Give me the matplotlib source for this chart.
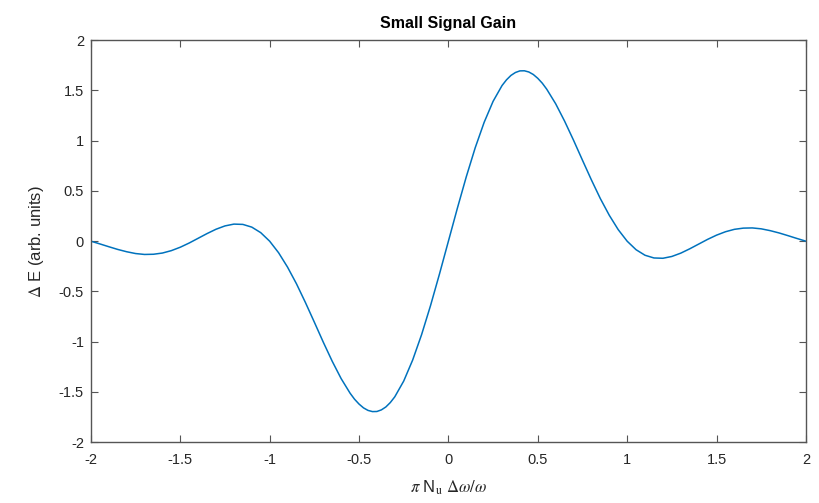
import numpy as np
import matplotlib
matplotlib.use("Agg")
import matplotlib.pyplot as plt

plt.rcParams["font.family"] = ["Liberation Sans", "DejaVu Sans"]
plt.rcParams["mathtext.fontset"] = "stix"

# gain curve for x >= 0 (the curve is odd, mirrored below)
x_pos = [0.00, 0.05, 0.10, 0.15, 0.20, 0.25, 0.30, 0.325, 0.35, 0.375, 0.40, 0.425,
         0.45, 0.475, 0.50, 0.525, 0.55, 0.60, 0.65, 0.70, 0.75, 0.80, 0.85, 0.90, 0.95,
         1.00, 1.05, 1.10, 1.15, 1.20, 1.25, 1.30, 1.35, 1.40, 1.45,
         1.50, 1.55, 1.60, 1.65, 1.70, 1.75, 1.80, 1.85, 1.90, 1.95, 2.00]
gain_pos = [0.000, 0.327, 0.641, 0.930, 1.183, 1.392, 1.549, 1.606, 1.650, 1.679, 1.695, 1.696,
            1.684, 1.659, 1.621, 1.573, 1.513, 1.368, 1.195, 1.005, 0.806, 0.610, 0.424, 0.258, 0.115,
            0.000, -0.085, -0.140, -0.167, -0.170, -0.152, -0.119, -0.076, -0.029, 0.018,
            0.060, 0.094, 0.118, 0.130, 0.132, 0.123, 0.105, 0.082, 0.055, 0.027, 0.000]

x_ticks = [-2, -1.5, -1, -0.5, 0, 0.5, 1, 1.5, 2]
y_ticks = [-2, -1.5, -1, -0.5, 0, 0.5, 1, 1.5, 2]

x = np.concatenate([-np.array(x_pos[:0:-1]), np.array(x_pos)])
gain = np.concatenate([-np.array(gain_pos[:0:-1]), np.array(gain_pos)])

fig = plt.figure(figsize=(8.19, 5.03), dpi=100)
ax = fig.add_axes([0.111, 0.121, 0.873, 0.799])

ax.plot(x, gain, color="#0072BD", lw=1.1)

ax.set_xlim(-2, 2)
ax.set_ylim(-2, 2)
ax.set_xticks(x_ticks)
ax.set_yticks(y_ticks)
ax.set_xticklabels([f"{t:g}" for t in x_ticks])
ax.set_yticklabels([f"{t:g}" for t in y_ticks])

axis_col = "#555555"
for s in ax.spines.values():
    s.set_color(axis_col)
    s.set_linewidth(1.0)
ax.tick_params(direction="in", top=True, right=True, length=5, width=0.8,
               color=axis_col, labelcolor="#262626", labelsize=10.5)
ax.tick_params(axis="x", pad=8)
ax.tick_params(axis="y", pad=5)

ax.set_title("Small Signal Gain", fontsize=11.5, fontweight="bold", pad=9)
ax.set_xlabel(r"$\pi$ N$_{\rm u}$ $\Delta\omega/\omega$", fontsize=12, color="#262626", labelpad=8)
ax.set_ylabel(r"$\Delta$ E (arb. units)", fontsize=12, color="#262626", labelpad=9)

fig.savefig("out.png", dpi=100)
